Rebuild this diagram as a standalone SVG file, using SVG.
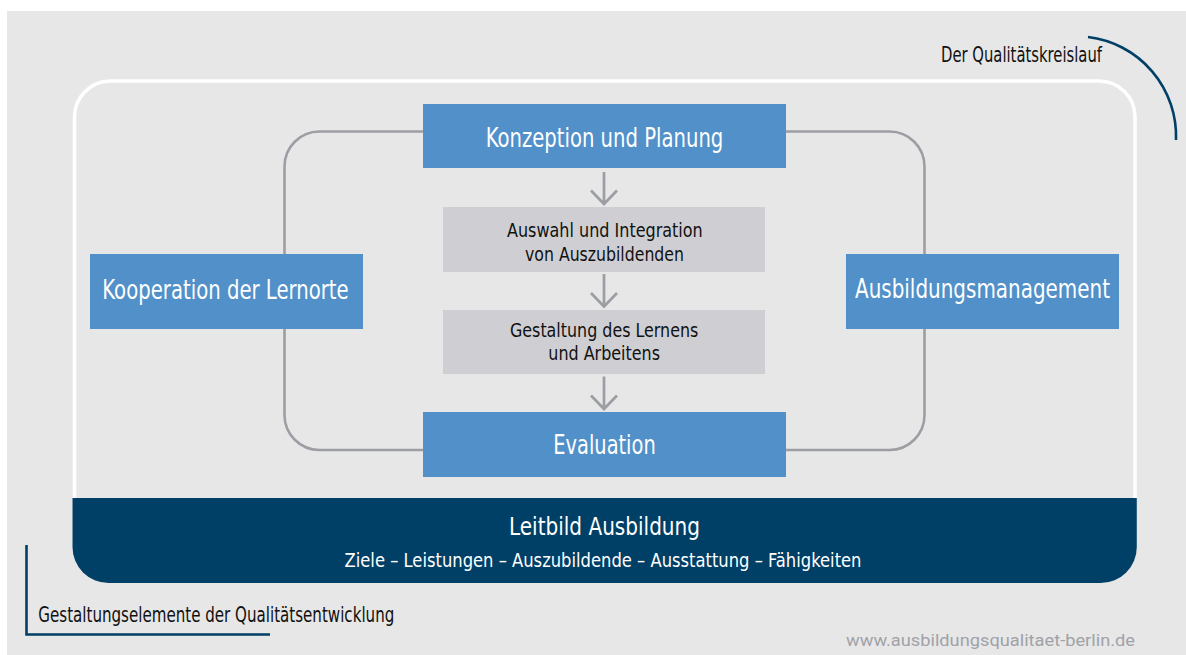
<svg xmlns="http://www.w3.org/2000/svg" width="1186" height="655" viewBox="0 0 1186 655">
  <style>
    .cond { font-family: "Liberation Sans Narrow", "DejaVu Sans Condensed", "Liberation Sans", sans-serif; }
    .blue { fill: #5190c8; }
    .grey { fill: #cfcfd3; }
    .wt { fill: #ffffff; }
    .dk { fill: #111111; }
    .loop { fill: none; stroke: #9c9ea4; stroke-width: 2.6; }
    .arrow { fill: none; stroke: #9c9ea4; stroke-width: 2.7; }
    .navy { fill: none; stroke: #003f66; stroke-width: 2.6; }
  </style>

  <!-- canvas -->
  <rect x="0" y="0" width="1186" height="655" fill="#ffffff"/>
  <rect x="7" y="11" width="1179" height="644" fill="#e7e7e7"/>

  <!-- corner brackets and captions -->
  <path class="navy" d="M1088,37 A100,100 0 0 1 1176,140"/>
  <text class="cond dk" x="941" y="62.3" font-size="21" textLength="161" lengthAdjust="spacingAndGlyphs">Der Qualitätskreislauf</text>
  <path class="navy" d="M26.5,545 V634.5 H270"/>
  <text class="cond dk" x="38.3" y="621.7" font-size="20.5" textLength="356" lengthAdjust="spacingAndGlyphs">Gestaltungselemente der Qualitätsentwicklung</text>
  <text x="846" y="645.7" font-family="Roboto, 'Liberation Sans', sans-serif" font-size="17" fill="#a0a2a8" textLength="289" lengthAdjust="spacingAndGlyphs">www.ausbildungsqualitaet-berlin.de</text>

  <!-- outer frame -->
  <rect x="74.5" y="81" width="1060.5" height="500" rx="36" ry="36" fill="none" stroke="#ffffff" stroke-width="3.6"/>

  <!-- connectors -->
  <g id="connectors">
    <rect class="loop" x="284.5" y="131.5" width="640" height="318.5" rx="35" ry="35"/>
    <path class="arrow" d="M604,172 V204 M591,190.5 L604,204 L617,190.5"/>
    <path class="arrow" d="M604,274 V306.5 M591,293 L604,306.5 L617,293"/>
    <path class="arrow" d="M604,376.5 V409 M591,395.5 L604,409 L617,395.5"/>
  </g>

  <!-- nodes -->
  <g id="konzeption">
    <rect class="blue" x="423" y="104" width="363" height="64"/>
    <text class="cond wt" x="485.7" y="146.7" font-size="26.5" textLength="237.6" lengthAdjust="spacingAndGlyphs">Konzeption und Planung</text>
  </g>
  <g id="auswahl">
    <rect class="grey" x="443" y="207" width="322" height="65"/>
    <text class="cond dk" x="507" y="237" font-size="19" textLength="195.7" lengthAdjust="spacingAndGlyphs">Auswahl und Integration</text>
    <text class="cond dk" x="525" y="260.7" font-size="19" textLength="159" lengthAdjust="spacingAndGlyphs">von Auszubildenden</text>
  </g>
  <g id="gestaltung">
    <rect class="grey" x="443" y="310" width="322" height="64"/>
    <text class="cond dk" x="510" y="336.7" font-size="19" textLength="188.3" lengthAdjust="spacingAndGlyphs">Gestaltung des Lernens</text>
    <text class="cond dk" x="548.3" y="360" font-size="19" textLength="111.7" lengthAdjust="spacingAndGlyphs">und Arbeitens</text>
  </g>
  <g id="evaluation">
    <rect class="blue" x="423" y="412" width="363" height="65"/>
    <text class="cond wt" x="553.3" y="454" font-size="26.5" textLength="102.4" lengthAdjust="spacingAndGlyphs">Evaluation</text>
  </g>
  <g id="kooperation">
    <rect class="blue" x="90" y="254" width="273" height="75"/>
    <text class="cond wt" x="102.3" y="299" font-size="26.5" textLength="246.4" lengthAdjust="spacingAndGlyphs">Kooperation der Lernorte</text>
  </g>
  <g id="management">
    <rect class="blue" x="846" y="254" width="273" height="75"/>
    <text class="cond wt" x="855" y="298" font-size="26.5" textLength="255" lengthAdjust="spacingAndGlyphs">Ausbildungsmanagement</text>
  </g>
  <g id="leitbild">
    <path d="M72.5,498 H1136.8 V547 A36,36 0 0 1 1100.8,583 H108.5 A36,36 0 0 1 72.5,547 Z" fill="#003f66"/>
    <text class="cond wt" x="509" y="535" font-size="25.5" textLength="191" lengthAdjust="spacingAndGlyphs">Leitbild Ausbildung</text>
    <text class="cond wt" x="344.5" y="567" font-size="20" textLength="517" lengthAdjust="spacingAndGlyphs">Ziele – Leistungen – Auszubildende – Ausstattung – Fähigkeiten</text>
  </g>
</svg>
